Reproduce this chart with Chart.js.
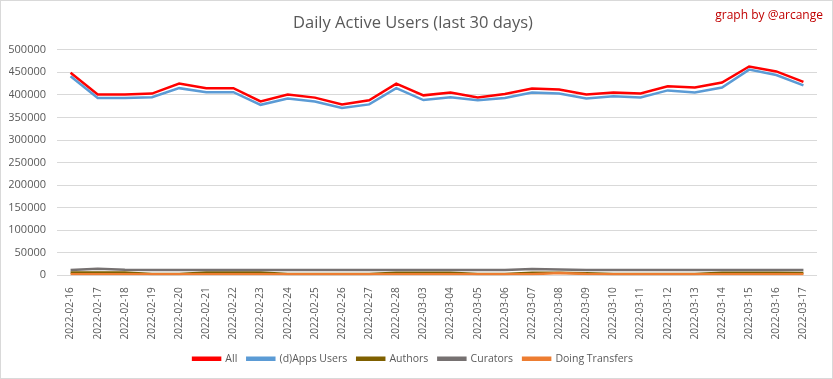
<!DOCTYPE html>
<html>
<head>
<meta charset="utf-8">
<script src="https://cdn.jsdelivr.net/npm/chart.js@4/dist/chart.umd.min.js"></script>
<style>
  html, body { margin: 0; padding: 0; background: #fff; }
  #wrap { position: relative; width: 833px; height: 379px; border: 1px solid #d9d9d9; box-sizing: border-box; }
  #credit { position: absolute; right: 9px; top: 5px; font: 12px 'Open Sans', sans-serif; color: #c00000; }
</style>
</head>
<body>
<div id="wrap">
  <canvas id="dauChart"></canvas>
  <div id="credit">graph by @arcange</div>
</div>
<script>
const days = ['2022-02-16', '2022-02-17', '2022-02-18', '2022-02-19', '2022-02-20', '2022-02-21', '2022-02-22',
    '2022-02-23', '2022-02-24', '2022-02-25', '2022-02-26', '2022-02-27', '2022-02-28', '2022-03-03',
    '2022-03-04', '2022-03-05', '2022-03-06', '2022-03-07', '2022-03-08', '2022-03-09', '2022-03-10',
    '2022-03-11', '2022-03-12', '2022-03-13', '2022-03-14', '2022-03-15', '2022-03-16', '2022-03-17'];

const allUsers = [449000, 401000, 401000, 403000, 425000, 415000, 415000, 385500, 401000, 394000, 379000, 388000,
    425000, 399000, 405500, 394500, 402000, 414000, 412000, 401000, 405500, 403000, 419000, 416500, 427500,
    463000, 452000, 429000];
const appsUsers = [441500, 393000, 393000, 395000, 415000, 406000, 406000, 378000, 392000, 385500, 371000, 379000,
    415000, 388500, 395000, 388000, 393000, 405500, 403000, 392000, 397000, 394500, 410000, 405500, 416500,
    456000, 444000, 421000];
const authors = [6500, 6500, 6000, 3000, 3000, 6000, 6000, 6000, 3000, 3000, 3000, 3000, 5500, 5500,
    5500, 3000, 3000, 5500, 5500, 4500, 3000, 3000, 3000, 3000, 5500, 5500, 5500, 5000];
const curators = [12000, 14500, 12500, 12000, 12000, 12000, 12000, 12000, 12000, 12000, 12000, 12000, 12000, 12000,
    12000, 12000, 12000, 14000, 13000, 12000, 12000, 12000, 12000, 12000, 12000, 12000, 12000, 12000];
const transfers = [2500, 2500, 2500, 2500, 2500, 2500, 2500, 2500, 2500, 2500, 2500, 2500, 2500, 2500,
    2500, 2500, 2500, 2500, 5000, 3000, 2500, 2500, 2500, 2500, 2500, 2500, 2500, 2500];

const yTicks = [0, 50000, 100000, 150000, 200000, 250000, 300000, 350000, 400000, 450000, 500000];

const textColor = '#595959';
const fontFamily = "'Open Sans', sans-serif";

function series(label, data, color, order) {
    return {
        label: label,
        data: data,
        borderColor: color,
        backgroundColor: color,
        borderWidth: 2.5,
        pointRadius: 0,
        tension: 0,
        order: order
    };
}

const ctx = document.getElementById('dauChart').getContext('2d');
const dauChart = new Chart(ctx, {
    type: 'line',
    data: {
        labels: days,
        datasets: [
            series('All', allUsers, '#ff0000', 5),
            series('(d)Apps Users', appsUsers, '#5b9bd5', 4),
            series('Authors', authors, '#7f6000', 3),
            series('Curators', curators, '#767171', 2),
            series('Doing Transfers', transfers, '#ed7d31', 1)
        ]
    },
    options: {
        responsive: true,
        maintainAspectRatio: false,
        animation: false,
        layout: { padding: { left: 8, right: 15, top: 8, bottom: 4 } },
        plugins: {
            title: {
                display: true,
                text: 'Daily Active Users (last 30 days)',
                color: textColor,
                font: { family: fontFamily, size: 16.5, weight: 'normal' },
                padding: { top: 4, bottom: 17 }
            },
            legend: {
                position: 'bottom',
                labels: {
                    color: textColor,
                    font: { family: fontFamily, size: 10.5 },
                    boxWidth: 27,
                    boxHeight: 2,
                    padding: 10,
                    sort: (a, b) => a.datasetIndex - b.datasetIndex
                }
            },
            tooltip: { enabled: false }
        },
        scales: {
            x: {
                offset: true,
                grid: { display: false },
                border: { display: false },
                ticks: {
                    color: textColor,
                    font: { family: fontFamily, size: 10 },
                    minRotation: 90,
                    maxRotation: 90,
                    autoSkip: false,
                    padding: 4
                }
            },
            y: {
                min: 0,
                max: 500000,
                afterBuildTicks: axis => { axis.ticks = yTicks.map(v => ({ value: v })); },
                afterFit: axis => { axis.width = 48; },
                grid: { color: '#d9d9d9', drawTicks: false },
                border: { display: false },
                ticks: {
                    color: textColor,
                    font: { family: fontFamily, size: 11 },
                    padding: 11,
                    callback: v => String(v)
                }
            }
        }
    }
});
</script>
</body>
</html>
